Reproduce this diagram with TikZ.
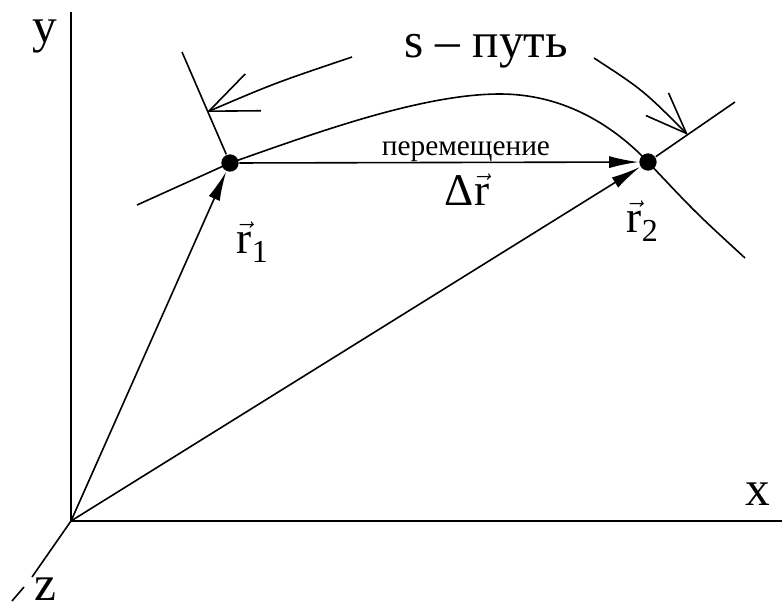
\documentclass[tikz,border=0pt]{standalone}
\usepackage{fontspec}
\setmainfont{Liberation Serif}
\usetikzlibrary{arrows.meta}

\begin{document}
\begin{tikzpicture}[x=0.75pt, y=-0.75pt, line width=1.2pt,
    axis/.style={line width=1.9pt},
    radvec/.style={-{Latex[length=22pt,width=9pt]}},
    sarrow/.style={-{Straight Barb[length=36pt,width=30pt]}},
    pt/.style={circle, fill, inner sep=0pt, minimum size=13pt},
    biglbl/.style={font=\fontsize{37}{40}\selectfont, inner sep=0pt, anchor=base},
    veclbl/.style={font=\fontsize{34}{38}\selectfont, inner sep=0pt}]
  \useasboundingbox (0,0) rectangle (782,611);
  % Axes
  \coordinate (O) at (71,521);
  \coordinate (ytop) at (71,12);
  \coordinate (xend) at (782,521);
  \coordinate (zend) at (32,577);
  \draw[axis] (O) -- (ytop);
  \draw[axis] (O) -- (xend);
  \draw (O) -- (zend);
  \draw (24,587) -- (12,601);
  \node[biglbl] (ylbl) at (45,42) {y};
  \node[biglbl] (xlbl) at (758,505) {x};
  \node[biglbl] (zlbl) at (45,600) {z};
  % Points on the path
  \node[pt] (r1) at (230,163) {};
  \node[pt] (r2) at (648,162) {};
  % Trajectory
  \coordinate (tstart) at (137,205);
  \coordinate (top) at (500,94);
  \coordinate (tend) at (745,258);
  \draw (tstart) -- (r1.center)
    .. controls (310,135) and (420,94) .. (top)
    .. controls (560,94) and (610,122) .. (r2.center)
    .. controls (695,212) .. (tend);
  % Normals at the ends of s
  \coordinate (n1) at (182,52);
  \coordinate (n2) at (735,102);
  \draw (r1) -- (n1);
  \draw (r2) -- (n2);
  % Arrows marking the path length
  \coordinate (s1a) at (352,57);
  \coordinate (s1b) at (207,112);
  \coordinate (s2a) at (594,58);
  \coordinate (s2b) at (688,135);
  \draw[sarrow] (s1a) .. controls (275,83) .. (s1b);
  \draw[-{Straight Barb[length=31pt,width=24pt]}] (s2a) .. controls (643,90) .. (s2b);
  \node[biglbl] (slbl) at (486,57) {s – путь};
  % Radius vectors and displacement
  \draw[radvec] (O) -- (r1);
  \draw[radvec] (O) -- (r2);
  \draw[radvec] (r1) -- (r2);
  \node[font=\fontsize{22}{24}\selectfont, inner sep=0pt, anchor=base] (dlbl) at (466,155) {перемещение};
  \node[veclbl, anchor=base] (drlbl) at (467,205) {Δ$\vec{\hbox{r}}$};
  \node[veclbl, anchor=base west] (r1lbl) at (236,253) {$\vec{\hbox{r}}_{\hbox{\fontsize{24}{26}\selectfont 1}}$};
  \node[veclbl, anchor=base west] (r2lbl) at (626,232) {$\vec{\hbox{r}}_{\hbox{\fontsize{24}{26}\selectfont 2}}$};
\end{tikzpicture}
\end{document}
